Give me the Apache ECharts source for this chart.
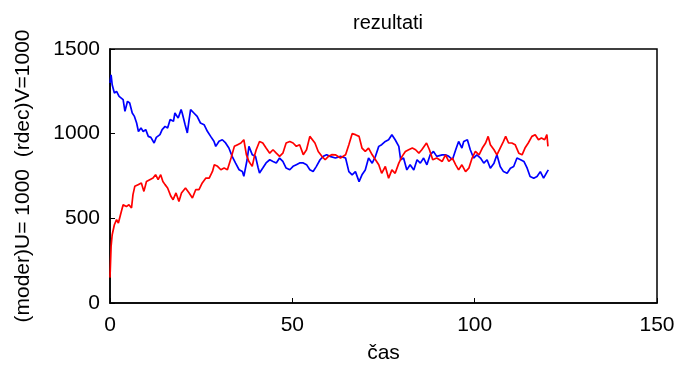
<!DOCTYPE html>
<html>
<head>
<meta charset="utf-8">
<script src="https://cdn.jsdelivr.net/npm/echarts@6/dist/echarts.min.js"></script>
<style>
html,body{margin:0;padding:0;background:#fff;}
#c{width:682px;height:376px;}
</style>
</head>
<body>
<div id="c"></div>
<script>
const titleText = 'rezultati';
const xName = 'čas';
const yName = '(moder)U= 1000  (rdec)V=1000';
const xTicks = [0, 50, 100, 150];
const yTicks = [0, 500, 1000, 1500];

const blueT = [0,0.3,0.6,1.2,1.8,2.5,3.0,3.6,4.1,4.8,5.4,6.1,6.7,7.3,7.8,8.5,9.1,9.8,10.5,11.2,12.1,12.7,13.7,14.3,15.1,15.8,16.5,17.4,17.8,18.7,19.5,19.8,20.6,21.2,21.7,22.1,23.0,23.9,24.8,25.8,26.7,27.6,28.5,29.0,29.9,30.8,31.7,32.6,33.5,34.4,35.4,36.3,36.7,37.6,38.1,39.0,39.9,40.6,41.0,41.9,42.8,43.8,44.7,45.6,46.5,47.4,48.3,49.3,50.2,51.1,52.0,53.0,53.9,54.8,55.7,56.6,57.6,58.5,59.4,60.3,61.8,63.2,64.6,65.5,66.4,67.3,68.3,69.1,70.0,70.9,71.9,72.8,73.7,74.5,75.5,76.4,77.3,78.2,79.2,79.7,80.5,81.4,82.3,83.3,84.2,85.1,86.0,86.9,87.8,88.7,89.6,91.1,92.0,92.9,93.9,94.8,95.6,96.5,97.0,98.0,98.8,99.7,100.6,101.6,102.5,103.4,104.3,105.3,106.1,107.0,107.9,108.9,109.8,110.7,111.6,112.6,113.5,114.4,115.2,116.2,117.1,118.0,118.9,119.9,120.2];
const blueV = [1300,1348,1289,1240,1250,1220,1230,1201,1132,1191,1181,1122,1102,1063,1013,1034,1013,1024,984,978,945,978,994,1024,1043,1034,1083,1073,1122,1092,1142,1122,1053,1004,1083,1142,1122,1102,1063,1053,1014,984,955,925,955,964,945,915,866,827,787,777,748,846,925,876,866,800,768,797,827,846,836,827,856,836,797,787,807,817,827,827,817,787,777,807,846,866,876,866,856,866,856,776,757,776,717,757,786,856,826,866,925,935,954,964,994,964,925,846,856,786,816,786,846,826,856,816,875,895,866,875,875,866,846,905,954,915,954,964,905,856,875,856,826,846,796,826,875,806,776,766,796,806,856,846,836,796,747,737,747,776,737,776,786];

const redT = [0,0.3,0.6,1.2,1.8,2.3,3.0,3.6,4.5,5.2,5.9,6.3,6.8,7.7,8.6,9.3,10.0,10.9,11.8,12.5,13.2,13.9,14.5,15.1,15.8,16.7,17.3,18.1,18.9,19.6,20.7,21.7,22.6,23.5,24.4,25.3,26.3,27.2,28.1,28.6,29.5,30.4,31.3,32.2,33.2,34.1,35.0,35.9,36.7,37.4,38.1,39.0,39.7,40.1,41.0,41.9,42.8,43.8,44.7,45.6,46.5,47.4,48.3,49.3,50.2,51.1,52.0,53.0,53.9,54.8,55.3,56.2,57.1,58.1,59.0,59.9,60.8,61.8,63.2,64.6,65.5,66.4,67.3,68.3,69.1,70.0,70.9,71.9,72.8,73.7,74.5,75.5,76.4,77.3,78.2,79.2,80.1,81.0,81.9,82.9,83.8,84.7,85.5,86.8,87.6,88.5,89.6,91.1,92.0,92.9,93.9,94.8,95.6,96.5,97.5,98.4,99.3,100.2,101.2,102.1,103.0,103.7,104.3,105.3,106.1,107.0,107.9,108.5,109.3,110.2,111.1,112.1,113.0,113.8,114.7,115.7,116.6,117.5,118.3,119.2,119.8,120.1];
const redV = [150,334,403,462,492,472,531,580,570,580,561,640,689,699,709,659,718,728,738,758,728,758,718,699,679,630,610,650,600,650,679,650,620,669,669,709,738,738,777,817,807,787,797,787,856,925,935,945,964,876,836,807,876,905,954,945,915,885,905,885,866,885,945,954,945,925,935,876,905,984,994,945,895,866,846,866,876,875,856,875,935,1000,994,984,915,895,915,875,846,816,766,806,737,786,766,826,866,895,905,915,905,885,905,945,905,846,856,836,875,836,856,816,786,816,776,796,856,895,875,915,945,984,935,905,875,915,954,984,945,945,935,885,875,915,945,984,994,964,974,964,994,925];

function pairs(t, v) { return t.map((x, i) => [x, v[i]]); }

const FONT = "'Liberation Sans', Arial, Helvetica, sans-serif";
const chart = echarts.init(document.getElementById('c'), null, {renderer: 'canvas'});
chart.setOption({
  animation: false,
  backgroundColor: '#ffffff',
  title: {
    text: titleText, left: 383, textAlign: 'center', top: 8,
    textStyle: {fontFamily: FONT, fontSize: 20, fontWeight: 'normal', color: '#000'}
  },
  grid: {left: 110, right: 25, top: 49, bottom: 73, show: true, borderColor: '#000', borderWidth: 1.5, backgroundColor: 'transparent'},
  xAxis: {
    type: 'value', min: xTicks[0], max: xTicks[xTicks.length - 1], interval: xTicks[1] - xTicks[0],
    name: xName, nameLocation: 'middle', nameGap: 40,
    nameTextStyle: {fontFamily: FONT, fontSize: 21, color: '#000'},
    axisLine: {show: true, lineStyle: {color: '#000', width: 1.5}},
    axisTick: {show: true, inside: true, length: 5, lineStyle: {color: '#000'}},
    axisLabel: {fontFamily: FONT, fontSize: 21, color: '#000', margin: 12, formatter: v => String(v)},
    splitLine: {show: false}
  },
  yAxis: {
    type: 'value', min: yTicks[0], max: yTicks[yTicks.length - 1], interval: yTicks[1] - yTicks[0],
    name: yName, nameLocation: 'middle', nameGap: 76,
    nameTextStyle: {fontFamily: FONT, fontSize: 21, color: '#000'},
    axisLine: {show: true, lineStyle: {color: '#000', width: 1.5}},
    axisTick: {show: true, inside: true, length: 5, lineStyle: {color: '#000'}},
    axisLabel: {fontFamily: FONT, fontSize: 21, color: '#000', margin: 10, formatter: v => String(v)},
    splitLine: {show: false}
  },
  series: [
    {type: 'line', data: pairs(blueT, blueV), showSymbol: false, lineStyle: {color: '#0000ff', width: 1.7}, itemStyle: {color: '#0000ff'}},
    {type: 'line', data: pairs(redT, redV), showSymbol: false, lineStyle: {color: '#ff0000', width: 1.7}, itemStyle: {color: '#ff0000'}}
  ]
});
</script>
</body>
</html>
